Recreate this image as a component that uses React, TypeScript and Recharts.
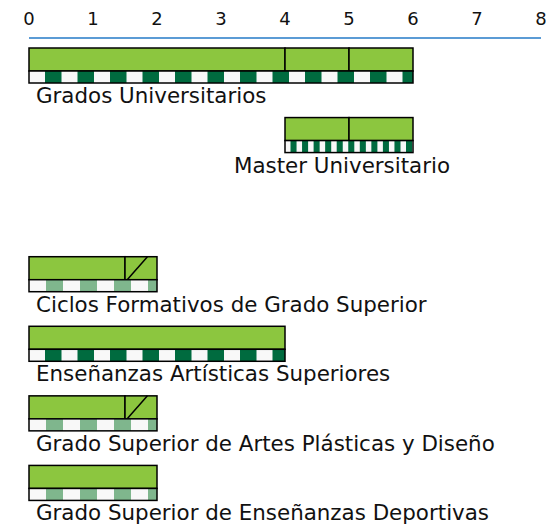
import { BarChart, Bar, XAxis, YAxis } from "recharts"

const levels = [
  "Grados Universitarios",
  "Master Universitario",
  "",
  "Ciclos Formativos de Grado Superior",
  "Enseñanzas Artísticas Superiores",
  "Grado Superior de Artes Plásticas y Diseño",
  "Grado Superior de Enseñanzas Deportivas",
]
const startYear = [0, 4, 0, 0, 0, 0, 0]
const blockA = [4, 1, 0, 1.5, 4, 1.5, 2]
const blockB = [1, 1, 0, 0.5, 0, 0.5, 0]
const blockC = [1, 0, 0, 0, 0, 0, 0]
const stripeType = ["dark", "fine", "", "light", "dark", "light", "light"]
const crossedB = [false, false, false, true, false, true, false]
const yearTicks = [0, 1, 2, 3, 4, 5, 6, 7, 8]

const rows = levels.map((name, i) => ({
  name,
  start: startYear[i],
  a: blockA[i],
  b: blockB[i],
  c: blockC[i],
  total: blockA[i] + blockB[i] + blockC[i],
  stripe: stripeType[i],
  crossed: crossedB[i],
}))

const GREEN = "#8cc63f"
const FONT = "DejaVu Sans, Verdana, sans-serif"

const stripes: Record<string, { period: number; gap: number; color: string }> = {
  dark: { period: 32.5, gap: 16, color: "#006b3f" },
  fine: { period: 11.55, gap: 5.5, color: "#006b3f" },
  light: { period: 34, gap: 17, color: "#7fb68d" },
}

function Block(props: any) {
  const { x, y, width, height, payload, diag } = props
  if (!width || width <= 0 || !payload?.name) return null
  return (
    <g>
      <rect x={x} y={y} width={width} height={height} fill={GREEN} stroke="#000" strokeWidth={1.5} />
      {diag && payload.crossed && (
        <line
          x1={x + width * 0.07}
          y1={y + height}
          x2={x + width * 0.7}
          y2={y}
          stroke="#000"
          strokeWidth={1.5}
        />
      )}
    </g>
  )
}

function Strip(props: any) {
  const { x, y, width, height, payload } = props
  if (!width || width <= 0 || !payload?.name) return null
  const kind = stripes[payload.stripe]
  const bits = []
  for (let sx = x + kind.gap; sx < x + width; sx += kind.period) {
    bits.push(
      <rect
        key={sx}
        x={sx}
        y={y}
        width={Math.min(kind.period - kind.gap, x + width - sx)}
        height={height}
        fill={kind.color}
      />
    )
  }
  const centred = payload.start > 0
  return (
    <g>
      <rect x={x} y={y} width={width} height={height} fill="#f8f8f8" />
      {bits}
      <rect x={x} y={y} width={width} height={height} fill="none" stroke="#000" strokeWidth={1.5} />
      <text
        x={centred ? x + width / 2 - 7 : x + 7}
        y={y + height + 20}
        textAnchor={centred ? "middle" : "start"}
        fontSize={21.4}
        fontFamily={FONT}
        fill="#111"
      >
        {payload.name}
      </text>
    </g>
  )
}

export default function App() {
  return (
    <div style={{ position: "absolute", left: 0, top: 0, background: "#fff" }}>
      <BarChart
        width={546}
        height={525}
        data={rows}
        layout="vertical"
        barGap={0}
        margin={{ top: 0, right: 5, bottom: 0, left: 29 }}
      >
        <XAxis
          type="number"
          orientation="top"
          domain={[0, 8]}
          ticks={yearTicks}
          height={38}
          tickLine={false}
          tickMargin={7}
          axisLine={{ stroke: "#5b9bd5", strokeWidth: 2 }}
          tick={{ fontSize: 18, fill: "#111", fontFamily: FONT }}
        />
        <YAxis type="category" dataKey="name" hide />
        <Bar dataKey="start" stackId="blocks" barSize={23} fill="transparent" isAnimationActive={false} />
        <Bar dataKey="a" stackId="blocks" barSize={23} shape={(p: any) => <Block {...p} />} isAnimationActive={false} />
        <Bar dataKey="b" stackId="blocks" barSize={23} shape={(p: any) => <Block {...p} diag />} isAnimationActive={false} />
        <Bar dataKey="c" stackId="blocks" barSize={23} shape={(p: any) => <Block {...p} />} isAnimationActive={false} />
        <Bar dataKey="start" stackId="strip" barSize={12} fill="transparent" isAnimationActive={false} />
        <Bar dataKey="total" stackId="strip" barSize={12} shape={(p: any) => <Strip {...p} />} isAnimationActive={false} />
        <Bar dataKey={() => 0} stackId="space" barSize={15.5} fill="transparent" isAnimationActive={false} />
      </BarChart>
    </div>
  )
}
